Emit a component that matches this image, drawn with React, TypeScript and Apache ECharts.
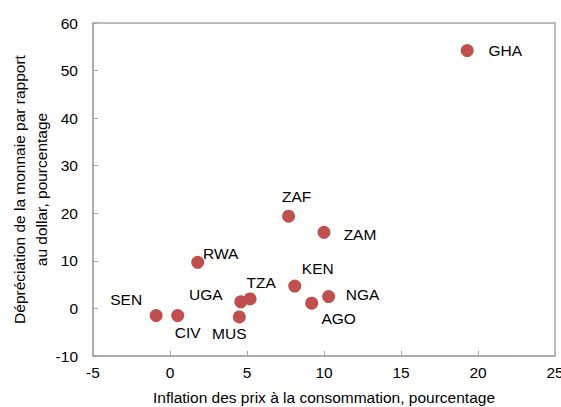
import React, { useEffect, useRef } from "react";
import * as echarts from "echarts";

const countries = ["GHA", "ZAF", "ZAM", "RWA", "KEN", "NGA", "AGO", "TZA", "UGA", "MUS", "CIV", "SEN"];
const inflation = [19.3, 7.7, 10.0, 1.8, 8.1, 10.3, 9.2, 5.2, 4.6, 4.5, 0.5, -0.9];
const depreciation = [54.2, 19.4, 16.0, 9.7, 4.7, 2.5, 1.1, 2.0, 1.4, -1.8, -1.5, -1.5];
const labelOffsets: [number, number][] = [
  [38, 0], [8, -20], [36, 2], [23, -9], [23, -18], [34, -2],
  [27, 15], [11, -16], [-35, -7], [-10, 17], [10, 17], [-30, -16],
];

const xTicks = [-5, 25, 5];
const yTicks = [-10, 60, 10];

export default function App() {
  const ref = useRef<HTMLDivElement>(null);
  useEffect(() => {
    if (!ref.current) return;
    const chart = echarts.init(ref.current, null, { renderer: "svg" });
    const font = "'Liberation Sans', Arial, sans-serif";
    const axisColor = "#a6a6a6";
    const fs = 15.5;
    chart.setOption({
      animation: false,
      textStyle: { fontFamily: font },
      grid: {
        left: 93, right: 6, top: 23, bottom: 51,
        outerBoundsMode: "none",
        containLabel: false,
        show: true, borderColor: axisColor, borderWidth: 1.5,
      },
      xAxis: {
        type: "value",
        min: xTicks[0], max: xTicks[1], interval: xTicks[2],
        name: "Inflation des prix à la consommation, pourcentage",
        nameLocation: "middle", nameGap: 33,
        nameMoveOverlap: false,
        nameTextStyle: { fontSize: fs, color: "#000", fontFamily: font },
        axisLine: { show: true, onZero: false, lineStyle: { color: axisColor, width: 1.5 } },
        axisTick: { show: true, inside: true, length: 5, lineStyle: { color: axisColor } },
        axisLabel: { fontSize: fs, color: "#000", margin: 8, fontFamily: font },
        splitLine: { show: false },
      },
      yAxis: {
        type: "value",
        min: yTicks[0], max: yTicks[1], interval: yTicks[2],
        name: "Dépréciation de la monnaie par rapport\nau dollar, pourcentage",
        nameLocation: "middle", nameGap: 41,
        nameMoveOverlap: false,
        nameTextStyle: { fontSize: fs, color: "#000", lineHeight: 22, fontFamily: font },
        axisLine: { show: true, onZero: false, lineStyle: { color: axisColor, width: 1.5 } },
        axisTick: { show: true, inside: true, length: 5, lineStyle: { color: axisColor } },
        axisLabel: { fontSize: fs, color: "#000", margin: 15, fontFamily: font },
        splitLine: { show: false },
      },
      series: [
        {
          type: "scatter",
          symbolSize: 13,
          itemStyle: { color: "#C0504D", opacity: 1 },
          data: countries.map((c, i) => ({
            name: c,
            value: [inflation[i], depreciation[i]],
            label: {
              show: true,
              position: "inside",
              offset: labelOffsets[i],
              formatter: c,
              fontSize: fs,
              color: "#000",
              fontFamily: font,
            },
          })),
        },
      ],
    });
    return () => chart.dispose();
  }, []);
  return <div ref={ref} style={{ width: 561, height: 407, position: "absolute", left: 0, top: 0 }} />;
}
